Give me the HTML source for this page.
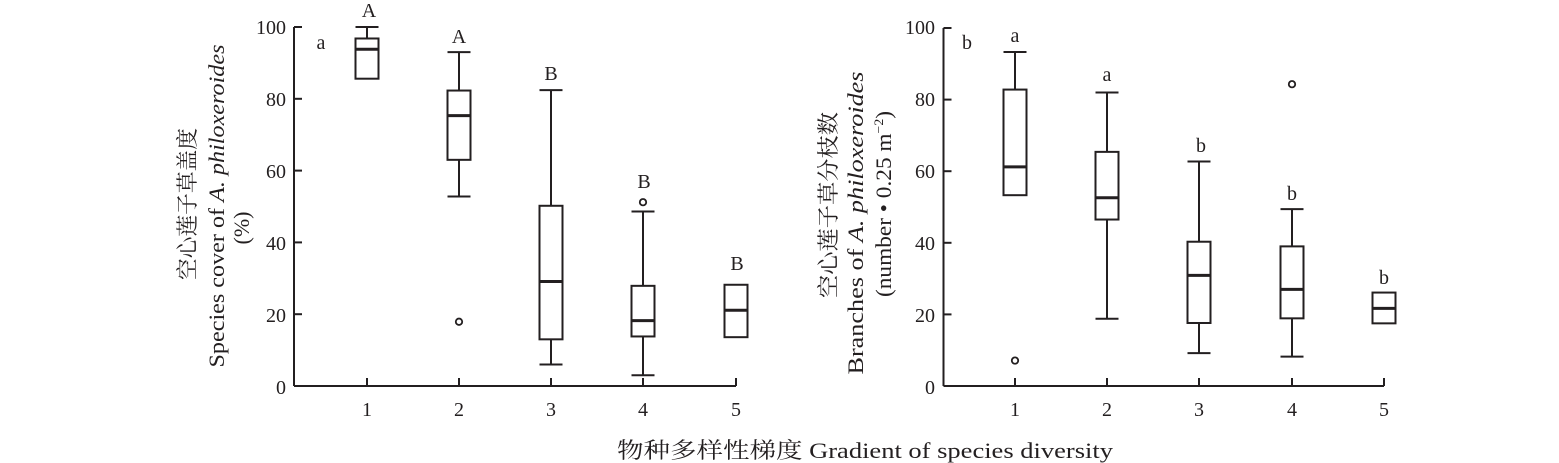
<!DOCTYPE html>
<html><head><meta charset="utf-8"><style>
body{margin:0;background:#fff;width:1559px;height:463px;overflow:hidden}
svg{display:block}
text{font-family:"Liberation Serif","Noto Serif CJK SC",serif;fill:#231f20}
</style></head><body>
<svg id="s" width="1559" height="463" viewBox="0 0 1559 463" xmlns="http://www.w3.org/2000/svg">
<g id="g" stroke="#231f20" fill="none" stroke-width="2"></g>
<g font-size="20" text-anchor="end">
<text x="286" y="34">100</text><text x="286" y="106">80</text><text x="286" y="178">60</text><text x="286" y="250">40</text><text x="286" y="322">20</text><text x="286" y="394">0</text>
<text x="935" y="34">100</text><text x="935" y="106">80</text><text x="935" y="178">60</text><text x="935" y="250">40</text><text x="935" y="322">20</text><text x="935" y="394">0</text>
</g>
<g font-size="20" text-anchor="middle">
<text x="367" y="416">1</text><text x="459" y="416">2</text><text x="551" y="416">3</text><text x="643" y="416">4</text><text x="736" y="416">5</text>
<text x="1015" y="416">1</text><text x="1107" y="416">2</text><text x="1199" y="416">3</text><text x="1292" y="416">4</text><text x="1384" y="416">5</text>
<text x="369" y="17">A</text><text x="459" y="43">A</text><text x="551" y="80">B</text><text x="644" y="188">B</text><text x="737" y="270">B</text>
<text x="1015" y="42">a</text><text x="1107" y="81">a</text><text x="1201" y="152">b</text><text x="1292" y="200">b</text><text x="1384" y="284">b</text>
<text x="321" y="49">a</text><text x="967" y="49">b</text>
</g>
<g font-size="22" text-anchor="middle">
<text transform="translate(195,204) rotate(-90)" textLength="152" lengthAdjust="spacingAndGlyphs">空心莲子草盖度</text>
<text transform="translate(224,206) rotate(-90)" textLength="323" lengthAdjust="spacingAndGlyphs">Species cover of <tspan font-style="italic">A. philoxeroides</tspan></text>
<text transform="translate(249,228) rotate(-90)">(%)</text>
<text transform="translate(836,205) rotate(-90)" textLength="186" lengthAdjust="spacingAndGlyphs">空心莲子草分枝数</text>
<text transform="translate(863,223) rotate(-90)" textLength="303" lengthAdjust="spacingAndGlyphs">Branches of <tspan font-style="italic">A. philoxeroides</tspan></text>
<text transform="translate(891,204) rotate(-90)" textLength="186" lengthAdjust="spacingAndGlyphs">(number • 0.25 m<tspan font-size="13" dy="-8">−2</tspan><tspan dy="8">)</tspan></text>
</g>
<text x="617" y="458" font-size="22" textLength="496" lengthAdjust="spacingAndGlyphs">物种多样性梯度 Gradient of species diversity</text>
</svg>
<script>
var g=document.getElementById('g'),h='';
function L(a,b,c,d,w){h+='<line x1="'+a+'" y1="'+b+'" x2="'+c+'" y2="'+d+'"'+(w?' stroke-width="'+w+'"':'')+'/>';}
function panel(ax,y100,y0,xs,axEnd,boxes){
 var Y=function(v){return y0-(y0-y100)*v/100;};
 L(ax,y0,axEnd,y0);L(ax,y100,ax,y0);
 for(var i=0;i<=5;i++){var y=Y(i*20);L(ax,y,ax+8,y);}
 xs.forEach(function(x){L(x,y0,x,y0-8);});
 boxes.forEach(function(b,i){var x=xs[i],hw=11.5;
  if(b.wt!=null){L(x,Y(b.wt),x,Y(b.q3));L(x-hw,Y(b.wt),x+hw,Y(b.wt));}
  if(b.wl!=null){L(x,Y(b.wl),x,Y(b.q1));L(x-hw,Y(b.wl),x+hw,Y(b.wl));}
  h+='<rect x="'+(x-hw)+'" y="'+Y(b.q3)+'" width="'+(2*hw)+'" height="'+(Y(b.q1)-Y(b.q3))+'"/>';
  L(x-hw,Y(b.md),x+hw,Y(b.md),3);
  (b.o||[]).forEach(function(o){h+='<circle cx="'+x+'" cy="'+Y(o)+'" r="3.2" stroke-width="1.8"/>';});
 });
}
panel(294,27,386,[367,459,551,643,736],736,[
 {wt:100,q3:96.8,md:93.8,q1:85.6},
 {wt:93,q3:82.3,md:75.3,q1:63,wl:52.8,o:[17.9]},
 {wt:82.4,q3:50.2,md:29.1,q1:13,wl:6},
 {wt:48.6,q3:27.9,md:18.2,q1:13.8,wl:3,o:[51.2]},
 {q3:28.2,md:21.1,q1:13.6}]);
panel(943.5,28,386,[1015,1107,1199,1292,1384],1384,[
 {wt:93.3,q3:82.8,md:61.2,q1:53.3,o:[7.1]},
 {wt:82,q3:65.4,md:52.6,q1:46.5,wl:18.8},
 {wt:62.7,q3:40.3,md:30.9,q1:17.6,wl:9.2},
 {wt:49.4,q3:39,md:27,q1:18.9,wl:8.2,o:[84.3]},
 {q3:26.1,md:21.7,q1:17.5}]);
g.innerHTML=h;
</script>
</body></html>
